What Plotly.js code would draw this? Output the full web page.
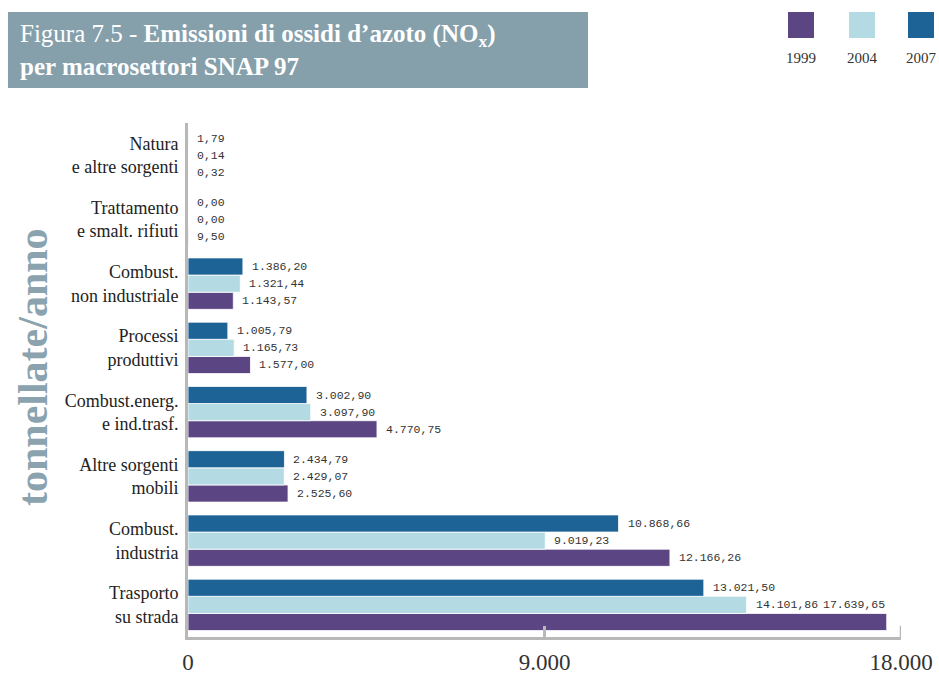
<!DOCTYPE html>
<html>
<head>
<meta charset="utf-8">
<script src="https://cdn.plot.ly/plotly-3.0.1.min.js"></script>
<style>html,body{margin:0;padding:0;background:#fff;}#chart{width:939px;height:675px;}</style>
</head>
<body>
<div id="chart"></div>
<script>
// Categories, bottom to top
var categories = [
  "Trasporto<br>su strada",
  "Combust.<br>industria",
  "Altre sorgenti<br>mobili",
  "Combust.energ.<br>e ind.trasf.",
  "Processi<br>produttivi",
  "Combust.<br>non industriale",
  "Trattamento<br>e smalt. rifiuti",
  "Natura<br>e altre sorgenti"
];
var seriesNames = ["1999", "2004", "2007"];
var values1999 = [17639.65, 12166.26, 2525.60, 4770.75, 1577.00, 1143.57, 9.50, 0.32];
var values2004 = [14101.86, 9019.23, 2429.07, 3097.90, 1165.73, 1321.44, 0.00, 0.14];
var values2007 = [13021.50, 10868.66, 2434.79, 3002.90, 1005.79, 1386.20, 0.00, 1.79];
var xTickVals = [0, 9000, 18000];
var xTickText = ["0", "9.000", "18.000"];

var colors = ["#5b4583", "#b4dae4", "#1d6396"];
var allValues = [values1999, values2004, values2007];

function fmtIt(n) {
  var s = n.toFixed(2).split(".");
  var intPart = s[0].replace(/\B(?=(\d{3})+(?!\d))/g, ".");
  return intPart + "," + s[1];
}

var traces = allValues.map(function (vals, i) {
  return {
    type: "bar",
    orientation: "h",
    name: seriesNames[i],
    y: categories,
    x: vals,
    marker: { color: colors[i], line: { color: "#ffffff", width: 0.8 } },
    hoverinfo: "x+name"
  };
});

var annotations = [];
var shiftPx = [-17.1, 0, 17.1];
allValues.forEach(function (vals, i) {
  vals.forEach(function (v, j) {
    var a = {
      x: v, y: categories[j], xref: "x", yref: "y",
      text: fmtIt(v), showarrow: false,
      xanchor: "left", yanchor: "middle",
      xshift: 7, yshift: shiftPx[i],
      font: { family: "Liberation Mono, monospace", size: 11.5, color: "#333" }
    };
    if (i === 0 && j === 0) {
      // label sits in the row above, right-aligned to bar end
      a.xanchor = "right"; a.xshift = 0; a.yshift = 0;
    }
    annotations.push(a);
  });
});

// y-axis title
annotations.push({
  xref: "paper", yref: "paper", x: -0.2175, y: 0.525,
  text: "<b>tonnellate/anno</b>", textangle: -90, showarrow: false,
  xanchor: "center", yanchor: "middle",
  font: { family: "Liberation Serif, serif", size: 42, color: "#8aa3ae" }
});

// title
annotations.push({
  xref: "paper", yref: "paper", x: -0.238, y: 1.142,
  xanchor: "left", yanchor: "middle", align: "left", showarrow: false,
  text: "Figura 7.5 - <b>Emissioni di ossidi d’azoto (NO<sub>x</sub>)</b><br><b>per macrosettori SNAP 97</b>",
  font: { family: "Liberation Serif, serif", size: 25, color: "#ffffff" }
});

var shapes = [{
  type: "rect", xref: "paper", yref: "paper",
  x0: -0.2525, x1: 0.561, y0: 1.068, y1: 1.216,
  fillcolor: "#86a0ab", line: { width: 0 }, layer: "below"
}, {
  // end tick of the x axis at 18.000
  type: "line", xref: "x", yref: "paper",
  x0: 18000, x1: 18000, y0: -0.003, y1: 0.022,
  line: { color: "#b8b8b8", width: 2.5 }
}];

// legend: swatches above labels
var legendX = [801, 862, 921];
legendX.forEach(function (px, i) {
  var xc = (px - 188) / 713;
  var half = 13 / 713;
  shapes.push({
    type: "rect", xref: "paper", yref: "paper",
    x0: xc - half, x1: xc + half,
    y0: (637 - 38) / 514, y1: (637 - 12) / 514,
    fillcolor: colors[i], line: { width: 0 }
  });
  annotations.push({
    xref: "paper", yref: "paper", x: xc, y: (637 - 58) / 514,
    text: seriesNames[i], showarrow: false, xanchor: "center", yanchor: "middle",
    font: { family: "Liberation Serif, serif", size: 15, color: "#333" }
  });
});

var layout = {
  width: 939, height: 675,
  margin: { l: 188, r: 38, t: 123, b: 38 },
  paper_bgcolor: "#ffffff", plot_bgcolor: "#ffffff",
  barmode: "group", bargap: 0.2, bargroupgap: 0,
  showlegend: false,
  xaxis: {
    range: [0, 18000], tickvals: xTickVals, ticktext: xTickText,
    showgrid: false, zeroline: false,
    showline: true, linecolor: "#b8b8b8", linewidth: 3,
    ticks: "inside", ticklen: 11, tickwidth: 2.5, tickcolor: "#b8b8b8",
    ticklabelstandoff: 2,
    tickfont: { family: "Liberation Serif, serif", size: 23, color: "#333" },
    fixedrange: true
  },
  yaxis: {
    type: "category", categoryorder: "array", categoryarray: categories,
    showgrid: false, zeroline: false,
    showline: true, linecolor: "#b8b8b8", linewidth: 3,
    ticks: "", ticklabelstandoff: 3,
    tickfont: { family: "Liberation Serif, serif", size: 18, color: "#222" },
    fixedrange: true
  },
  annotations: annotations,
  shapes: shapes
};

Plotly.newPlot("chart", traces, layout, { displayModeBar: false, staticPlot: true });
</script>
</body>
</html>
